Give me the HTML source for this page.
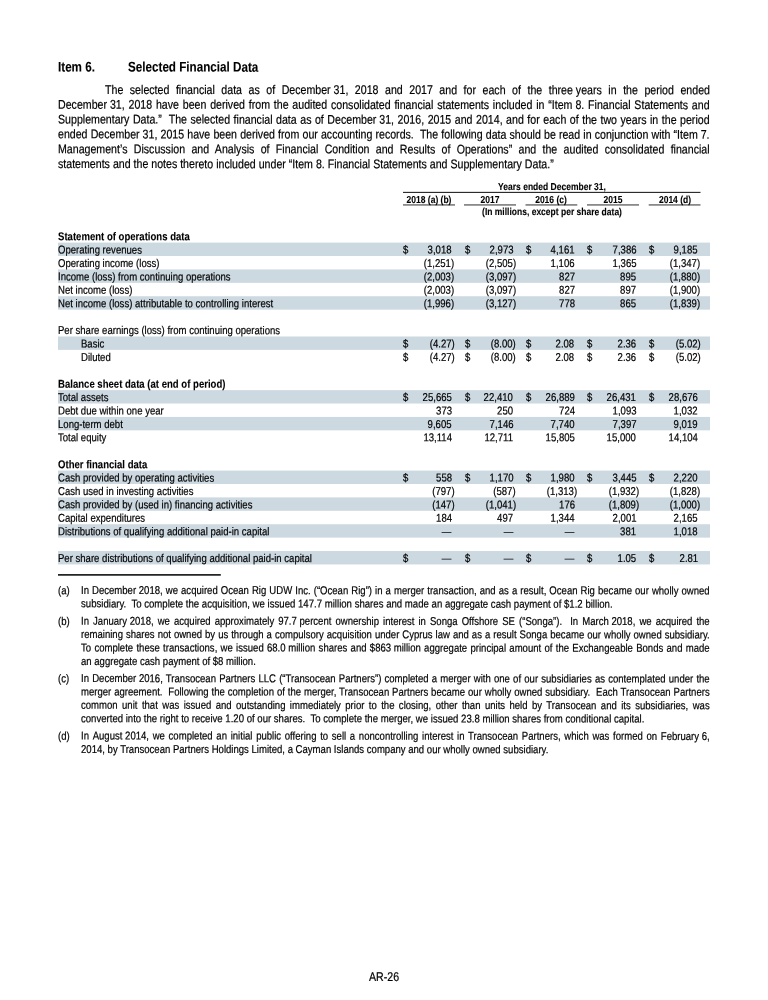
<!DOCTYPE html>
<html lang="en"><head><meta charset="utf-8"><title>Item 6. Selected Financial Data</title>
<style>
html,body{margin:0;padding:0;background:#fff;}
body{width:768px;height:1000px;position:relative;overflow:hidden;font-family:"Liberation Sans",Arial,Helvetica,sans-serif;color:#000;-webkit-text-stroke:0.2px #000;}
.t{position:absolute;white-space:nowrap;margin:0;padding:0;}
.r{position:absolute;}
.nb{display:inline-block;text-align:left;text-align-last:left;white-space:pre;}
</style></head><body>
<svg width="768" height="1000" viewBox="0 0 768 1000" style="position:absolute;left:0;top:0"><rect x="58" y="242.60" width="652" height="13.41" fill="#cdd9e1"/><rect x="58" y="269.43" width="652" height="13.41" fill="#cdd9e1"/><rect x="58" y="296.25" width="652" height="13.41" fill="#cdd9e1"/><rect x="58" y="336.48" width="652" height="13.41" fill="#cdd9e1"/><rect x="58" y="390.12" width="652" height="13.41" fill="#cdd9e1"/><rect x="58" y="416.94" width="652" height="13.41" fill="#cdd9e1"/><rect x="58" y="470.57" width="652" height="13.41" fill="#cdd9e1"/><rect x="58" y="497.40" width="652" height="13.41" fill="#cdd9e1"/><rect x="58" y="524.21" width="652" height="13.41" fill="#cdd9e1"/><rect x="58" y="551.03" width="652" height="13.41" fill="#cdd9e1"/><rect x="403.00" y="191.85" width="297.50" height="1.10" fill="#222"/><rect x="403.00" y="204.00" width="52.00" height="1.80" fill="#8a8a8a"/><rect x="464.00" y="204.00" width="52.00" height="1.80" fill="#8a8a8a"/><rect x="525.50" y="204.00" width="51.80" height="1.80" fill="#8a8a8a"/><rect x="587.00" y="204.00" width="52.00" height="1.80" fill="#8a8a8a"/><rect x="648.70" y="204.00" width="51.80" height="1.80" fill="#8a8a8a"/><rect x="58.00" y="574.15" width="162.80" height="1.50" fill="#000"/></svg>
<div class="t" style="top:58px;font-size:13.9px;line-height:16px;font-weight:bold;-webkit-text-stroke-width:0.1px;left:58.40px;transform:translateY(0.59px) skewY(0.04deg) scaleX(0.84);transform-origin:0 0;">Item 6.</div>
<div class="t" style="top:58px;font-size:13.9px;line-height:16px;font-weight:bold;-webkit-text-stroke-width:0.1px;left:127.60px;transform:translateY(0.55px) skewY(0.04deg) scaleX(0.84);transform-origin:0 0;">Selected Financial Data</div>
<div class="t" style="top:82px;font-size:12.6px;line-height:14px;left:105.00px;width:717.67px;transform:translateY(0.89px) skewY(0.04deg) scaleX(0.843);transform-origin:0 0;text-align:justify;text-align-last:justify;white-space:pre;">The selected financial data as of <span class="nb">December 31,</span> 2018 and 2017 and for each of the <span class="nb">three years</span> in the period ended</div>
<div class="t" style="top:97px;font-size:12.6px;line-height:14px;left:58.40px;width:772.95px;transform:translateY(0.69px) skewY(0.04deg) scaleX(0.843);transform-origin:0 0;text-align:justify;text-align-last:justify;white-space:pre;"><span class="nb">December 31,</span> 2018 have been derived from the audited consolidated financial statements included in <span class="nb">“Item 8.</span> Financial Statements and</div>
<div class="t" style="top:112px;font-size:12.6px;line-height:14px;left:58.40px;width:772.95px;transform:translateY(0.51px) skewY(0.04deg) scaleX(0.843);transform-origin:0 0;text-align:justify;text-align-last:justify;white-space:pre;">Supplementary Data.”  The selected financial data as of <span class="nb">December 31,</span> 2016, 2015 and 2014, and for each of the two years in the period</div>
<div class="t" style="top:127px;font-size:12.6px;line-height:14px;left:58.40px;width:772.95px;transform:translateY(0.33px) skewY(0.04deg) scaleX(0.843);transform-origin:0 0;text-align:justify;text-align-last:justify;white-space:pre;">ended <span class="nb">December 31,</span> 2015 have been derived from our accounting records.  The following data should be read in conjunction with <span class="nb">“Item 7.</span></div>
<div class="t" style="top:142px;font-size:12.6px;line-height:14px;left:58.40px;width:772.95px;transform:translateY(0.15px) skewY(0.04deg) scaleX(0.843);transform-origin:0 0;text-align:justify;text-align-last:justify;white-space:pre;">Management’s Discussion and Analysis of Financial Condition and Results of Operations” and the audited consolidated financial</div>
<div class="t" style="top:157px;font-size:12.6px;line-height:14px;left:58.40px;transform:translateY(0.03px) skewY(0.04deg) scaleX(0.843);transform-origin:0 0;white-space:pre;">statements and the notes thereto included under <span class="nb">“Item 8.</span> Financial Statements and Supplementary Data.”</div>
<div class="t" style="top:181px;font-size:10.13px;line-height:11px;font-weight:bold;-webkit-text-stroke-width:0.1px;left:251.75px;width:600px;transform:translateY(0.00px) skewY(0.04deg) scaleX(0.84);transform-origin:50% 0;text-align:center;">Years ended <span class="nb">December 31,</span></div>
<div class="t" style="top:194px;font-size:10.13px;line-height:11px;font-weight:bold;-webkit-text-stroke-width:0.1px;left:129.00px;width:600px;transform:translateY(0.00px) skewY(0.04deg) scaleX(0.84);transform-origin:50% 0;text-align:center;">2018 (a) (b)</div>
<div class="t" style="top:194px;font-size:10.13px;line-height:11px;font-weight:bold;-webkit-text-stroke-width:0.1px;left:190.00px;width:600px;transform:translateY(0.00px) skewY(0.04deg) scaleX(0.84);transform-origin:50% 0;text-align:center;">2017</div>
<div class="t" style="top:194px;font-size:10.13px;line-height:11px;font-weight:bold;-webkit-text-stroke-width:0.1px;left:251.40px;width:600px;transform:translateY(0.00px) skewY(0.04deg) scaleX(0.84);transform-origin:50% 0;text-align:center;">2016 (c)</div>
<div class="t" style="top:194px;font-size:10.13px;line-height:11px;font-weight:bold;-webkit-text-stroke-width:0.1px;left:313.00px;width:600px;transform:translateY(0.00px) skewY(0.04deg) scaleX(0.84);transform-origin:50% 0;text-align:center;">2015</div>
<div class="t" style="top:194px;font-size:10.13px;line-height:11px;font-weight:bold;-webkit-text-stroke-width:0.1px;left:374.60px;width:600px;transform:translateY(0.00px) skewY(0.04deg) scaleX(0.84);transform-origin:50% 0;text-align:center;">2014 (d)</div>
<div class="t" style="top:206px;font-size:10.13px;line-height:11px;font-weight:bold;-webkit-text-stroke-width:0.1px;left:251.75px;width:600px;transform:translateY(0.10px) skewY(0.04deg) scaleX(0.84);transform-origin:50% 0;text-align:center;">(In millions, except per share data)</div>
<div class="t" style="top:230px;font-size:11.4px;line-height:12px;font-weight:bold;-webkit-text-stroke-width:0.1px;left:58.40px;transform:translateY(0.15px) skewY(0.04deg) scaleX(0.84);transform-origin:0 0;">Statement of operations data</div>
<div class="t" style="top:243px;font-size:11.4px;line-height:12px;left:58.40px;transform:translateY(0.58px) skewY(0.04deg) scaleX(0.839);transform-origin:0 0;">Operating revenues</div>
<div class="t" style="top:243px;font-size:11.4px;line-height:12px;left:403.00px;transform:translateY(0.61px) skewY(0.04deg) scaleX(0.839);transform-origin:0 0;">$</div>
<div class="t" style="top:243px;font-size:11.4px;line-height:12px;right:316.20px;transform:translateY(0.61px) skewY(0.04deg) scaleX(0.839);transform-origin:100% 0;text-align:right;">3,018</div>
<div class="t" style="top:243px;font-size:11.4px;line-height:12px;left:464.60px;transform:translateY(0.61px) skewY(0.04deg) scaleX(0.839);transform-origin:0 0;">$</div>
<div class="t" style="top:243px;font-size:11.4px;line-height:12px;right:254.90px;transform:translateY(0.61px) skewY(0.04deg) scaleX(0.839);transform-origin:100% 0;text-align:right;">2,973</div>
<div class="t" style="top:243px;font-size:11.4px;line-height:12px;left:525.70px;transform:translateY(0.61px) skewY(0.04deg) scaleX(0.839);transform-origin:0 0;">$</div>
<div class="t" style="top:243px;font-size:11.4px;line-height:12px;right:193.40px;transform:translateY(0.61px) skewY(0.04deg) scaleX(0.839);transform-origin:100% 0;text-align:right;">4,161</div>
<div class="t" style="top:243px;font-size:11.4px;line-height:12px;left:587.30px;transform:translateY(0.61px) skewY(0.04deg) scaleX(0.839);transform-origin:0 0;">$</div>
<div class="t" style="top:243px;font-size:11.4px;line-height:12px;right:131.80px;transform:translateY(0.61px) skewY(0.04deg) scaleX(0.839);transform-origin:100% 0;text-align:right;">7,386</div>
<div class="t" style="top:243px;font-size:11.4px;line-height:12px;left:648.50px;transform:translateY(0.61px) skewY(0.04deg) scaleX(0.839);transform-origin:0 0;">$</div>
<div class="t" style="top:243px;font-size:11.4px;line-height:12px;right:70.30px;transform:translateY(0.61px) skewY(0.04deg) scaleX(0.839);transform-origin:100% 0;text-align:right;">9,185</div>
<div class="t" style="top:256px;font-size:11.4px;line-height:12px;left:58.40px;transform:translateY(0.98px) skewY(0.04deg) scaleX(0.839);transform-origin:0 0;">Operating income (loss)</div>
<div class="t" style="top:257px;font-size:11.4px;line-height:12px;right:313.60px;transform:translateY(0.02px) skewY(0.04deg) scaleX(0.839);transform-origin:100% 0;text-align:right;">(1,251)</div>
<div class="t" style="top:257px;font-size:11.4px;line-height:12px;right:252.30px;transform:translateY(0.02px) skewY(0.04deg) scaleX(0.839);transform-origin:100% 0;text-align:right;">(2,505)</div>
<div class="t" style="top:257px;font-size:11.4px;line-height:12px;right:193.40px;transform:translateY(0.02px) skewY(0.04deg) scaleX(0.839);transform-origin:100% 0;text-align:right;">1,106</div>
<div class="t" style="top:257px;font-size:11.4px;line-height:12px;right:131.80px;transform:translateY(0.02px) skewY(0.04deg) scaleX(0.839);transform-origin:100% 0;text-align:right;">1,365</div>
<div class="t" style="top:257px;font-size:11.4px;line-height:12px;right:67.70px;transform:translateY(0.02px) skewY(0.04deg) scaleX(0.839);transform-origin:100% 0;text-align:right;">(1,347)</div>
<div class="t" style="top:270px;font-size:11.4px;line-height:12px;left:58.40px;transform:translateY(0.37px) skewY(0.04deg) scaleX(0.839);transform-origin:0 0;">Income (loss) from continuing operations</div>
<div class="t" style="top:270px;font-size:11.4px;line-height:12px;right:313.60px;transform:translateY(0.43px) skewY(0.04deg) scaleX(0.839);transform-origin:100% 0;text-align:right;">(2,003)</div>
<div class="t" style="top:270px;font-size:11.4px;line-height:12px;right:252.30px;transform:translateY(0.43px) skewY(0.04deg) scaleX(0.839);transform-origin:100% 0;text-align:right;">(3,097)</div>
<div class="t" style="top:270px;font-size:11.4px;line-height:12px;right:193.40px;transform:translateY(0.43px) skewY(0.04deg) scaleX(0.839);transform-origin:100% 0;text-align:right;">827</div>
<div class="t" style="top:270px;font-size:11.4px;line-height:12px;right:131.80px;transform:translateY(0.43px) skewY(0.04deg) scaleX(0.839);transform-origin:100% 0;text-align:right;">895</div>
<div class="t" style="top:270px;font-size:11.4px;line-height:12px;right:67.70px;transform:translateY(0.43px) skewY(0.04deg) scaleX(0.839);transform-origin:100% 0;text-align:right;">(1,880)</div>
<div class="t" style="top:283px;font-size:11.4px;line-height:12px;left:58.40px;transform:translateY(0.81px) skewY(0.04deg) scaleX(0.839);transform-origin:0 0;">Net income (loss)</div>
<div class="t" style="top:283px;font-size:11.4px;line-height:12px;right:313.60px;transform:translateY(0.84px) skewY(0.04deg) scaleX(0.839);transform-origin:100% 0;text-align:right;">(2,003)</div>
<div class="t" style="top:283px;font-size:11.4px;line-height:12px;right:252.30px;transform:translateY(0.84px) skewY(0.04deg) scaleX(0.839);transform-origin:100% 0;text-align:right;">(3,097)</div>
<div class="t" style="top:283px;font-size:11.4px;line-height:12px;right:193.40px;transform:translateY(0.84px) skewY(0.04deg) scaleX(0.839);transform-origin:100% 0;text-align:right;">827</div>
<div class="t" style="top:283px;font-size:11.4px;line-height:12px;right:131.80px;transform:translateY(0.84px) skewY(0.04deg) scaleX(0.839);transform-origin:100% 0;text-align:right;">897</div>
<div class="t" style="top:283px;font-size:11.4px;line-height:12px;right:67.70px;transform:translateY(0.84px) skewY(0.04deg) scaleX(0.839);transform-origin:100% 0;text-align:right;">(1,900)</div>
<div class="t" style="top:297px;font-size:11.4px;line-height:12px;left:58.40px;transform:translateY(0.17px) skewY(0.04deg) scaleX(0.839);transform-origin:0 0;">Net income (loss) attributable to controlling interest</div>
<div class="t" style="top:297px;font-size:11.4px;line-height:12px;right:313.60px;transform:translateY(0.25px) skewY(0.04deg) scaleX(0.839);transform-origin:100% 0;text-align:right;">(1,996)</div>
<div class="t" style="top:297px;font-size:11.4px;line-height:12px;right:252.30px;transform:translateY(0.25px) skewY(0.04deg) scaleX(0.839);transform-origin:100% 0;text-align:right;">(3,127)</div>
<div class="t" style="top:297px;font-size:11.4px;line-height:12px;right:193.40px;transform:translateY(0.25px) skewY(0.04deg) scaleX(0.839);transform-origin:100% 0;text-align:right;">778</div>
<div class="t" style="top:297px;font-size:11.4px;line-height:12px;right:131.80px;transform:translateY(0.25px) skewY(0.04deg) scaleX(0.839);transform-origin:100% 0;text-align:right;">865</div>
<div class="t" style="top:297px;font-size:11.4px;line-height:12px;right:67.70px;transform:translateY(0.25px) skewY(0.04deg) scaleX(0.839);transform-origin:100% 0;text-align:right;">(1,839)</div>
<div class="t" style="top:323px;font-size:11.4px;line-height:12px;left:58.40px;transform:translateY(0.99px) skewY(0.04deg) scaleX(0.839);transform-origin:0 0;">Per share earnings (loss) from continuing operations</div>
<div class="t" style="top:337px;font-size:11.4px;line-height:12px;left:81.40px;transform:translateY(0.47px) skewY(0.04deg) scaleX(0.839);transform-origin:0 0;">Basic</div>
<div class="t" style="top:337px;font-size:11.4px;line-height:12px;left:403.00px;transform:translateY(0.48px) skewY(0.04deg) scaleX(0.839);transform-origin:0 0;">$</div>
<div class="t" style="top:337px;font-size:11.4px;line-height:12px;right:313.60px;transform:translateY(0.48px) skewY(0.04deg) scaleX(0.839);transform-origin:100% 0;text-align:right;">(4.27)</div>
<div class="t" style="top:337px;font-size:11.4px;line-height:12px;left:464.60px;transform:translateY(0.48px) skewY(0.04deg) scaleX(0.839);transform-origin:0 0;">$</div>
<div class="t" style="top:337px;font-size:11.4px;line-height:12px;right:252.30px;transform:translateY(0.48px) skewY(0.04deg) scaleX(0.839);transform-origin:100% 0;text-align:right;">(8.00)</div>
<div class="t" style="top:337px;font-size:11.4px;line-height:12px;left:525.70px;transform:translateY(0.48px) skewY(0.04deg) scaleX(0.839);transform-origin:0 0;">$</div>
<div class="t" style="top:337px;font-size:11.4px;line-height:12px;right:193.40px;transform:translateY(0.48px) skewY(0.04deg) scaleX(0.839);transform-origin:100% 0;text-align:right;">2.08</div>
<div class="t" style="top:337px;font-size:11.4px;line-height:12px;left:587.30px;transform:translateY(0.48px) skewY(0.04deg) scaleX(0.839);transform-origin:0 0;">$</div>
<div class="t" style="top:337px;font-size:11.4px;line-height:12px;right:131.80px;transform:translateY(0.48px) skewY(0.04deg) scaleX(0.839);transform-origin:100% 0;text-align:right;">2.36</div>
<div class="t" style="top:337px;font-size:11.4px;line-height:12px;left:648.50px;transform:translateY(0.48px) skewY(0.04deg) scaleX(0.839);transform-origin:0 0;">$</div>
<div class="t" style="top:337px;font-size:11.4px;line-height:12px;right:67.70px;transform:translateY(0.48px) skewY(0.04deg) scaleX(0.839);transform-origin:100% 0;text-align:right;">(5.02)</div>
<div class="t" style="top:350px;font-size:11.4px;line-height:12px;left:81.40px;transform:translateY(0.88px) skewY(0.04deg) scaleX(0.839);transform-origin:0 0;">Diluted</div>
<div class="t" style="top:350px;font-size:11.4px;line-height:12px;left:403.00px;transform:translateY(0.89px) skewY(0.04deg) scaleX(0.839);transform-origin:0 0;">$</div>
<div class="t" style="top:350px;font-size:11.4px;line-height:12px;right:313.60px;transform:translateY(0.89px) skewY(0.04deg) scaleX(0.839);transform-origin:100% 0;text-align:right;">(4.27)</div>
<div class="t" style="top:350px;font-size:11.4px;line-height:12px;left:464.60px;transform:translateY(0.89px) skewY(0.04deg) scaleX(0.839);transform-origin:0 0;">$</div>
<div class="t" style="top:350px;font-size:11.4px;line-height:12px;right:252.30px;transform:translateY(0.89px) skewY(0.04deg) scaleX(0.839);transform-origin:100% 0;text-align:right;">(8.00)</div>
<div class="t" style="top:350px;font-size:11.4px;line-height:12px;left:525.70px;transform:translateY(0.89px) skewY(0.04deg) scaleX(0.839);transform-origin:0 0;">$</div>
<div class="t" style="top:350px;font-size:11.4px;line-height:12px;right:193.40px;transform:translateY(0.89px) skewY(0.04deg) scaleX(0.839);transform-origin:100% 0;text-align:right;">2.08</div>
<div class="t" style="top:350px;font-size:11.4px;line-height:12px;left:587.30px;transform:translateY(0.89px) skewY(0.04deg) scaleX(0.839);transform-origin:0 0;">$</div>
<div class="t" style="top:350px;font-size:11.4px;line-height:12px;right:131.80px;transform:translateY(0.89px) skewY(0.04deg) scaleX(0.839);transform-origin:100% 0;text-align:right;">2.36</div>
<div class="t" style="top:350px;font-size:11.4px;line-height:12px;left:648.50px;transform:translateY(0.89px) skewY(0.04deg) scaleX(0.839);transform-origin:0 0;">$</div>
<div class="t" style="top:350px;font-size:11.4px;line-height:12px;right:67.70px;transform:translateY(0.89px) skewY(0.04deg) scaleX(0.839);transform-origin:100% 0;text-align:right;">(5.02)</div>
<div class="t" style="top:377px;font-size:11.4px;line-height:12px;font-weight:bold;-webkit-text-stroke-width:0.1px;left:58.40px;transform:translateY(0.65px) skewY(0.04deg) scaleX(0.84);transform-origin:0 0;">Balance sheet data (at end of period)</div>
<div class="t" style="top:391px;font-size:11.4px;line-height:12px;left:58.40px;transform:translateY(0.10px) skewY(0.04deg) scaleX(0.839);transform-origin:0 0;">Total assets</div>
<div class="t" style="top:391px;font-size:11.4px;line-height:12px;left:403.00px;transform:translateY(0.12px) skewY(0.04deg) scaleX(0.839);transform-origin:0 0;">$</div>
<div class="t" style="top:391px;font-size:11.4px;line-height:12px;right:316.20px;transform:translateY(0.12px) skewY(0.04deg) scaleX(0.839);transform-origin:100% 0;text-align:right;">25,665</div>
<div class="t" style="top:391px;font-size:11.4px;line-height:12px;left:464.60px;transform:translateY(0.12px) skewY(0.04deg) scaleX(0.839);transform-origin:0 0;">$</div>
<div class="t" style="top:391px;font-size:11.4px;line-height:12px;right:254.90px;transform:translateY(0.12px) skewY(0.04deg) scaleX(0.839);transform-origin:100% 0;text-align:right;">22,410</div>
<div class="t" style="top:391px;font-size:11.4px;line-height:12px;left:525.70px;transform:translateY(0.12px) skewY(0.04deg) scaleX(0.839);transform-origin:0 0;">$</div>
<div class="t" style="top:391px;font-size:11.4px;line-height:12px;right:193.40px;transform:translateY(0.12px) skewY(0.04deg) scaleX(0.839);transform-origin:100% 0;text-align:right;">26,889</div>
<div class="t" style="top:391px;font-size:11.4px;line-height:12px;left:587.30px;transform:translateY(0.12px) skewY(0.04deg) scaleX(0.839);transform-origin:0 0;">$</div>
<div class="t" style="top:391px;font-size:11.4px;line-height:12px;right:131.80px;transform:translateY(0.12px) skewY(0.04deg) scaleX(0.839);transform-origin:100% 0;text-align:right;">26,431</div>
<div class="t" style="top:391px;font-size:11.4px;line-height:12px;left:648.50px;transform:translateY(0.12px) skewY(0.04deg) scaleX(0.839);transform-origin:0 0;">$</div>
<div class="t" style="top:391px;font-size:11.4px;line-height:12px;right:70.30px;transform:translateY(0.12px) skewY(0.04deg) scaleX(0.839);transform-origin:100% 0;text-align:right;">28,676</div>
<div class="t" style="top:404px;font-size:11.4px;line-height:12px;left:58.40px;transform:translateY(0.49px) skewY(0.04deg) scaleX(0.839);transform-origin:0 0;">Debt due within one year</div>
<div class="t" style="top:404px;font-size:11.4px;line-height:12px;right:316.20px;transform:translateY(0.53px) skewY(0.04deg) scaleX(0.839);transform-origin:100% 0;text-align:right;">373</div>
<div class="t" style="top:404px;font-size:11.4px;line-height:12px;right:254.90px;transform:translateY(0.53px) skewY(0.04deg) scaleX(0.839);transform-origin:100% 0;text-align:right;">250</div>
<div class="t" style="top:404px;font-size:11.4px;line-height:12px;right:193.40px;transform:translateY(0.53px) skewY(0.04deg) scaleX(0.839);transform-origin:100% 0;text-align:right;">724</div>
<div class="t" style="top:404px;font-size:11.4px;line-height:12px;right:131.80px;transform:translateY(0.53px) skewY(0.04deg) scaleX(0.839);transform-origin:100% 0;text-align:right;">1,093</div>
<div class="t" style="top:404px;font-size:11.4px;line-height:12px;right:70.30px;transform:translateY(0.53px) skewY(0.04deg) scaleX(0.839);transform-origin:100% 0;text-align:right;">1,032</div>
<div class="t" style="top:417px;font-size:11.4px;line-height:12px;left:58.40px;transform:translateY(0.92px) skewY(0.04deg) scaleX(0.839);transform-origin:0 0;">Long-term debt</div>
<div class="t" style="top:417px;font-size:11.4px;line-height:12px;right:316.20px;transform:translateY(0.94px) skewY(0.04deg) scaleX(0.839);transform-origin:100% 0;text-align:right;">9,605</div>
<div class="t" style="top:417px;font-size:11.4px;line-height:12px;right:254.90px;transform:translateY(0.94px) skewY(0.04deg) scaleX(0.839);transform-origin:100% 0;text-align:right;">7,146</div>
<div class="t" style="top:417px;font-size:11.4px;line-height:12px;right:193.40px;transform:translateY(0.94px) skewY(0.04deg) scaleX(0.839);transform-origin:100% 0;text-align:right;">7,740</div>
<div class="t" style="top:417px;font-size:11.4px;line-height:12px;right:131.80px;transform:translateY(0.94px) skewY(0.04deg) scaleX(0.839);transform-origin:100% 0;text-align:right;">7,397</div>
<div class="t" style="top:417px;font-size:11.4px;line-height:12px;right:70.30px;transform:translateY(0.94px) skewY(0.04deg) scaleX(0.839);transform-origin:100% 0;text-align:right;">9,019</div>
<div class="t" style="top:431px;font-size:11.4px;line-height:12px;left:58.40px;transform:translateY(0.33px) skewY(0.04deg) scaleX(0.839);transform-origin:0 0;">Total equity</div>
<div class="t" style="top:431px;font-size:11.4px;line-height:12px;right:316.20px;transform:translateY(0.35px) skewY(0.04deg) scaleX(0.839);transform-origin:100% 0;text-align:right;">13,114</div>
<div class="t" style="top:431px;font-size:11.4px;line-height:12px;right:254.90px;transform:translateY(0.35px) skewY(0.04deg) scaleX(0.839);transform-origin:100% 0;text-align:right;">12,711</div>
<div class="t" style="top:431px;font-size:11.4px;line-height:12px;right:193.40px;transform:translateY(0.35px) skewY(0.04deg) scaleX(0.839);transform-origin:100% 0;text-align:right;">15,805</div>
<div class="t" style="top:431px;font-size:11.4px;line-height:12px;right:131.80px;transform:translateY(0.35px) skewY(0.04deg) scaleX(0.839);transform-origin:100% 0;text-align:right;">15,000</div>
<div class="t" style="top:431px;font-size:11.4px;line-height:12px;right:70.30px;transform:translateY(0.35px) skewY(0.04deg) scaleX(0.839);transform-origin:100% 0;text-align:right;">14,104</div>
<div class="t" style="top:458px;font-size:11.4px;line-height:12px;font-weight:bold;-webkit-text-stroke-width:0.1px;left:58.40px;transform:translateY(0.14px) skewY(0.04deg) scaleX(0.84);transform-origin:0 0;">Other financial data</div>
<div class="t" style="top:471px;font-size:11.4px;line-height:12px;left:58.40px;transform:translateY(0.53px) skewY(0.04deg) scaleX(0.839);transform-origin:0 0;">Cash provided by operating activities</div>
<div class="t" style="top:471px;font-size:11.4px;line-height:12px;left:403.00px;transform:translateY(0.58px) skewY(0.04deg) scaleX(0.839);transform-origin:0 0;">$</div>
<div class="t" style="top:471px;font-size:11.4px;line-height:12px;right:316.20px;transform:translateY(0.58px) skewY(0.04deg) scaleX(0.839);transform-origin:100% 0;text-align:right;">558</div>
<div class="t" style="top:471px;font-size:11.4px;line-height:12px;left:464.60px;transform:translateY(0.58px) skewY(0.04deg) scaleX(0.839);transform-origin:0 0;">$</div>
<div class="t" style="top:471px;font-size:11.4px;line-height:12px;right:254.90px;transform:translateY(0.58px) skewY(0.04deg) scaleX(0.839);transform-origin:100% 0;text-align:right;">1,170</div>
<div class="t" style="top:471px;font-size:11.4px;line-height:12px;left:525.70px;transform:translateY(0.58px) skewY(0.04deg) scaleX(0.839);transform-origin:0 0;">$</div>
<div class="t" style="top:471px;font-size:11.4px;line-height:12px;right:193.40px;transform:translateY(0.58px) skewY(0.04deg) scaleX(0.839);transform-origin:100% 0;text-align:right;">1,980</div>
<div class="t" style="top:471px;font-size:11.4px;line-height:12px;left:587.30px;transform:translateY(0.58px) skewY(0.04deg) scaleX(0.839);transform-origin:0 0;">$</div>
<div class="t" style="top:471px;font-size:11.4px;line-height:12px;right:131.80px;transform:translateY(0.58px) skewY(0.04deg) scaleX(0.839);transform-origin:100% 0;text-align:right;">3,445</div>
<div class="t" style="top:471px;font-size:11.4px;line-height:12px;left:648.50px;transform:translateY(0.58px) skewY(0.04deg) scaleX(0.839);transform-origin:0 0;">$</div>
<div class="t" style="top:471px;font-size:11.4px;line-height:12px;right:70.30px;transform:translateY(0.58px) skewY(0.04deg) scaleX(0.839);transform-origin:100% 0;text-align:right;">2,220</div>
<div class="t" style="top:484px;font-size:11.4px;line-height:12px;left:58.40px;transform:translateY(0.94px) skewY(0.04deg) scaleX(0.839);transform-origin:0 0;">Cash used in investing activities</div>
<div class="t" style="top:484px;font-size:11.4px;line-height:12px;right:313.60px;transform:translateY(0.99px) skewY(0.04deg) scaleX(0.839);transform-origin:100% 0;text-align:right;">(797)</div>
<div class="t" style="top:484px;font-size:11.4px;line-height:12px;right:252.30px;transform:translateY(0.99px) skewY(0.04deg) scaleX(0.839);transform-origin:100% 0;text-align:right;">(587)</div>
<div class="t" style="top:484px;font-size:11.4px;line-height:12px;right:190.80px;transform:translateY(0.99px) skewY(0.04deg) scaleX(0.839);transform-origin:100% 0;text-align:right;">(1,313)</div>
<div class="t" style="top:484px;font-size:11.4px;line-height:12px;right:129.20px;transform:translateY(0.99px) skewY(0.04deg) scaleX(0.839);transform-origin:100% 0;text-align:right;">(1,932)</div>
<div class="t" style="top:484px;font-size:11.4px;line-height:12px;right:67.70px;transform:translateY(0.99px) skewY(0.04deg) scaleX(0.839);transform-origin:100% 0;text-align:right;">(1,828)</div>
<div class="t" style="top:498px;font-size:11.4px;line-height:12px;left:58.40px;transform:translateY(0.33px) skewY(0.04deg) scaleX(0.839);transform-origin:0 0;">Cash provided by (used in) financing activities</div>
<div class="t" style="top:498px;font-size:11.4px;line-height:12px;right:313.60px;transform:translateY(0.40px) skewY(0.04deg) scaleX(0.839);transform-origin:100% 0;text-align:right;">(147)</div>
<div class="t" style="top:498px;font-size:11.4px;line-height:12px;right:252.30px;transform:translateY(0.40px) skewY(0.04deg) scaleX(0.839);transform-origin:100% 0;text-align:right;">(1,041)</div>
<div class="t" style="top:498px;font-size:11.4px;line-height:12px;right:193.40px;transform:translateY(0.40px) skewY(0.04deg) scaleX(0.839);transform-origin:100% 0;text-align:right;">176</div>
<div class="t" style="top:498px;font-size:11.4px;line-height:12px;right:129.20px;transform:translateY(0.40px) skewY(0.04deg) scaleX(0.839);transform-origin:100% 0;text-align:right;">(1,809)</div>
<div class="t" style="top:498px;font-size:11.4px;line-height:12px;right:67.70px;transform:translateY(0.40px) skewY(0.04deg) scaleX(0.839);transform-origin:100% 0;text-align:right;">(1,000)</div>
<div class="t" style="top:511px;font-size:11.4px;line-height:12px;left:58.40px;transform:translateY(0.78px) skewY(0.04deg) scaleX(0.839);transform-origin:0 0;">Capital expenditures</div>
<div class="t" style="top:511px;font-size:11.4px;line-height:12px;right:316.20px;transform:translateY(0.81px) skewY(0.04deg) scaleX(0.839);transform-origin:100% 0;text-align:right;">184</div>
<div class="t" style="top:511px;font-size:11.4px;line-height:12px;right:254.90px;transform:translateY(0.81px) skewY(0.04deg) scaleX(0.839);transform-origin:100% 0;text-align:right;">497</div>
<div class="t" style="top:511px;font-size:11.4px;line-height:12px;right:193.40px;transform:translateY(0.81px) skewY(0.04deg) scaleX(0.839);transform-origin:100% 0;text-align:right;">1,344</div>
<div class="t" style="top:511px;font-size:11.4px;line-height:12px;right:131.80px;transform:translateY(0.81px) skewY(0.04deg) scaleX(0.839);transform-origin:100% 0;text-align:right;">2,001</div>
<div class="t" style="top:511px;font-size:11.4px;line-height:12px;right:70.30px;transform:translateY(0.81px) skewY(0.04deg) scaleX(0.839);transform-origin:100% 0;text-align:right;">2,165</div>
<div class="t" style="top:525px;font-size:11.4px;line-height:12px;left:58.40px;transform:translateY(0.15px) skewY(0.04deg) scaleX(0.839);transform-origin:0 0;">Distributions of qualifying additional paid-in capital</div>
<div class="t" style="top:525px;font-size:11.4px;line-height:12px;right:316.20px;transform:translateY(0.22px) skewY(0.04deg) scaleX(0.839);transform-origin:100% 0;text-align:right;">—</div>
<div class="t" style="top:525px;font-size:11.4px;line-height:12px;right:254.90px;transform:translateY(0.22px) skewY(0.04deg) scaleX(0.839);transform-origin:100% 0;text-align:right;">—</div>
<div class="t" style="top:525px;font-size:11.4px;line-height:12px;right:193.40px;transform:translateY(0.22px) skewY(0.04deg) scaleX(0.839);transform-origin:100% 0;text-align:right;">—</div>
<div class="t" style="top:525px;font-size:11.4px;line-height:12px;right:131.80px;transform:translateY(0.22px) skewY(0.04deg) scaleX(0.839);transform-origin:100% 0;text-align:right;">381</div>
<div class="t" style="top:525px;font-size:11.4px;line-height:12px;right:70.30px;transform:translateY(0.22px) skewY(0.04deg) scaleX(0.839);transform-origin:100% 0;text-align:right;">1,018</div>
<div class="t" style="top:551px;font-size:11.4px;line-height:12px;left:58.40px;transform:translateY(0.95px) skewY(0.04deg) scaleX(0.839);transform-origin:0 0;">Per share distributions of qualifying additional paid-in capital</div>
<div class="t" style="top:552px;font-size:11.4px;line-height:12px;left:403.00px;transform:translateY(0.04px) skewY(0.04deg) scaleX(0.839);transform-origin:0 0;">$</div>
<div class="t" style="top:552px;font-size:11.4px;line-height:12px;right:316.20px;transform:translateY(0.04px) skewY(0.04deg) scaleX(0.839);transform-origin:100% 0;text-align:right;">—</div>
<div class="t" style="top:552px;font-size:11.4px;line-height:12px;left:464.60px;transform:translateY(0.04px) skewY(0.04deg) scaleX(0.839);transform-origin:0 0;">$</div>
<div class="t" style="top:552px;font-size:11.4px;line-height:12px;right:254.90px;transform:translateY(0.04px) skewY(0.04deg) scaleX(0.839);transform-origin:100% 0;text-align:right;">—</div>
<div class="t" style="top:552px;font-size:11.4px;line-height:12px;left:525.70px;transform:translateY(0.04px) skewY(0.04deg) scaleX(0.839);transform-origin:0 0;">$</div>
<div class="t" style="top:552px;font-size:11.4px;line-height:12px;right:193.40px;transform:translateY(0.04px) skewY(0.04deg) scaleX(0.839);transform-origin:100% 0;text-align:right;">—</div>
<div class="t" style="top:552px;font-size:11.4px;line-height:12px;left:587.30px;transform:translateY(0.04px) skewY(0.04deg) scaleX(0.839);transform-origin:0 0;">$</div>
<div class="t" style="top:552px;font-size:11.4px;line-height:12px;right:131.80px;transform:translateY(0.04px) skewY(0.04deg) scaleX(0.839);transform-origin:100% 0;text-align:right;">1.05</div>
<div class="t" style="top:552px;font-size:11.4px;line-height:12px;left:648.50px;transform:translateY(0.04px) skewY(0.04deg) scaleX(0.839);transform-origin:0 0;">$</div>
<div class="t" style="top:552px;font-size:11.4px;line-height:12px;right:70.30px;transform:translateY(0.04px) skewY(0.04deg) scaleX(0.839);transform-origin:100% 0;text-align:right;">2.81</div>
<div class="t" style="top:584px;font-size:11.4px;line-height:12px;left:58.40px;transform:translateY(0.20px) skewY(0.04deg) scaleX(0.839);transform-origin:0 0;">(a)</div>
<div class="t" style="top:583px;font-size:11.4px;line-height:12px;left:81.30px;width:749.34px;transform:translateY(0.98px) skewY(0.04deg) scaleX(0.839);transform-origin:0 0;text-align:justify;text-align-last:justify;white-space:pre;">In <span class="nb">December 2018,</span> we acquired Ocean Rig UDW Inc. (“Ocean Rig”) in a merger transaction, and as a result, Ocean Rig became our wholly owned</div>
<div class="t" style="top:597px;font-size:11.4px;line-height:12px;left:81.30px;transform:translateY(0.36px) skewY(0.04deg) scaleX(0.8435);transform-origin:0 0;white-space:pre;">subsidiary.  To complete the acquisition, we issued <span class="nb">147.7 million</span> shares and made an aggregate cash payment of <span class="nb">$1.2 billion.</span></div>
<div class="t" style="top:614px;font-size:11.4px;line-height:12px;left:58.40px;transform:translateY(0.90px) skewY(0.04deg) scaleX(0.839);transform-origin:0 0;">(b)</div>
<div class="t" style="top:614px;font-size:11.4px;line-height:12px;left:81.30px;width:749.34px;transform:translateY(0.68px) skewY(0.04deg) scaleX(0.839);transform-origin:0 0;text-align:justify;text-align-last:justify;white-space:pre;">In <span class="nb">January 2018,</span> we acquired approximately <span class="nb">97.7 percent</span> ownership interest in Songa Offshore SE (“Songa”).  In <span class="nb">March 2018,</span> we acquired the</div>
<div class="t" style="top:628px;font-size:11.4px;line-height:12px;left:81.30px;width:749.34px;transform:translateY(0.03px) skewY(0.04deg) scaleX(0.839);transform-origin:0 0;text-align:justify;text-align-last:justify;white-space:pre;">remaining shares not owned by us through a compulsory acquisition under Cyprus law and as a result Songa became our wholly owned subsidiary.</div>
<div class="t" style="top:641px;font-size:11.4px;line-height:12px;left:81.30px;width:749.34px;transform:translateY(0.38px) skewY(0.04deg) scaleX(0.839);transform-origin:0 0;text-align:justify;text-align-last:justify;white-space:pre;">To complete these transactions, we issued <span class="nb">68.0 million</span> shares and <span class="nb">$863 million</span> aggregate principal amount of the Exchangeable Bonds and made</div>
<div class="t" style="top:654px;font-size:11.4px;line-height:12px;left:81.30px;transform:translateY(0.89px) skewY(0.04deg) scaleX(0.839);transform-origin:0 0;white-space:pre;">an aggregate cash payment of <span class="nb">$8 million.</span></div>
<div class="t" style="top:672px;font-size:11.4px;line-height:12px;left:58.40px;transform:translateY(0.30px) skewY(0.04deg) scaleX(0.839);transform-origin:0 0;">(c)</div>
<div class="t" style="top:672px;font-size:11.4px;line-height:12px;left:81.30px;width:749.34px;transform:translateY(0.08px) skewY(0.04deg) scaleX(0.839);transform-origin:0 0;text-align:justify;text-align-last:justify;white-space:pre;">In <span class="nb">December 2016,</span> Transocean Partners LLC (“Transocean Partners”) completed a merger with one of our subsidiaries as contemplated under the</div>
<div class="t" style="top:685px;font-size:11.4px;line-height:12px;left:81.30px;width:749.34px;transform:translateY(0.43px) skewY(0.04deg) scaleX(0.839);transform-origin:0 0;text-align:justify;text-align-last:justify;white-space:pre;">merger agreement.  Following the completion of the merger, Transocean Partners became our wholly owned subsidiary.  Each Transocean Partners</div>
<div class="t" style="top:698px;font-size:11.4px;line-height:12px;left:81.30px;width:749.34px;transform:translateY(0.78px) skewY(0.04deg) scaleX(0.839);transform-origin:0 0;text-align:justify;text-align-last:justify;white-space:pre;">common unit that was issued and outstanding immediately prior to the closing, other than units held by Transocean and its subsidiaries, was</div>
<div class="t" style="top:712px;font-size:11.4px;line-height:12px;left:81.30px;transform:translateY(0.15px) skewY(0.04deg) scaleX(0.8412);transform-origin:0 0;white-space:pre;">converted into the right to receive 1.20 of our shares.  To complete the merger, we issued <span class="nb">23.8 million</span> shares from conditional capital.</div>
<div class="t" style="top:729px;font-size:11.4px;line-height:12px;left:58.40px;transform:translateY(0.70px) skewY(0.04deg) scaleX(0.839);transform-origin:0 0;">(d)</div>
<div class="t" style="top:729px;font-size:11.4px;line-height:12px;left:81.30px;width:749.34px;transform:translateY(0.48px) skewY(0.04deg) scaleX(0.839);transform-origin:0 0;text-align:justify;text-align-last:justify;white-space:pre;">In <span class="nb">August 2014,</span> we completed an initial public offering to sell a noncontrolling interest in Transocean Partners, which was formed on <span class="nb">February 6,</span></div>
<div class="t" style="top:742px;font-size:11.4px;line-height:12px;left:81.30px;transform:translateY(0.89px) skewY(0.04deg) scaleX(0.839);transform-origin:0 0;white-space:pre;">2014, by Transocean Partners Holdings Limited, a Cayman Islands company and our wholly owned subsidiary.</div>
<div class="t" style="top:969px;font-size:12.6px;line-height:14px;left:84.00px;width:600px;transform:translateY(0.90px) skewY(0.04deg) scaleX(0.843);transform-origin:50% 0;text-align:center;">AR-26</div>
</body></html>
